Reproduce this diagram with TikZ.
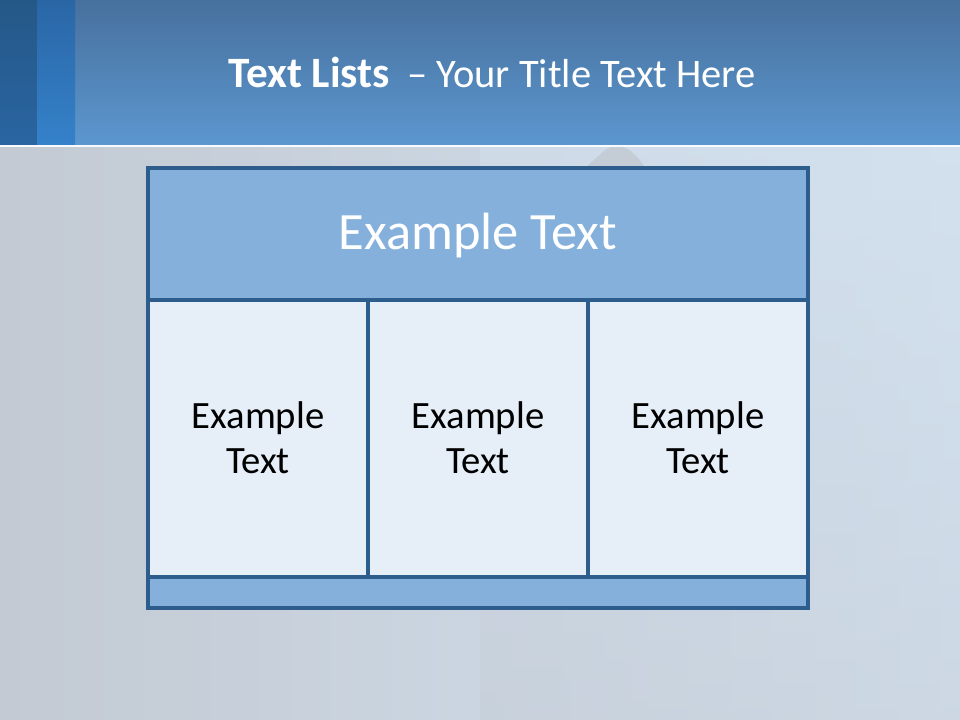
\documentclass[tikz,border=0pt]{standalone}
\usepackage{fontspec}
\setmainfont{Carlito}
\definecolor{tblline}{HTML}{2C5D8C}
\definecolor{headblue}{HTML}{86B0DC}
\definecolor{cellblue}{HTML}{E6EEF8}
\definecolor{bgleft}{HTML}{C3CAD3}
\definecolor{bgright}{HTML}{D3E1EF}
\definecolor{bartop}{HTML}{47709D}
\definecolor{barbot}{HTML}{5C97CF}
\definecolor{s1top}{HTML}{245887}
\definecolor{s1bot}{HTML}{2A65A2}
\definecolor{s2top}{HTML}{2A66A6}
\definecolor{s2bot}{HTML}{3582CA}
\begin{document}
\begin{tikzpicture}[x=0.025cm,y=-0.025cm,
  tableline/.style={draw=tblline,line width=2.5pt},
  headfill/.style={fill=headblue},
  cellfill/.style={fill=cellblue},
  celltext/.style={align=center,font=\fontsize{27.5}{32}\selectfont,text=black},
  headtext/.style={font=\fontsize{37.3}{40}\selectfont,text=white}]
\useasboundingbox (0,0) rectangle (960,720);
% background
\shade[left color=bgleft,right color=bgright] (0,145) rectangle (960,720);
\shade[top color=bgright,bottom color=bgleft,opacity=0.4] (480,145) rectangle (960,720);
\fill[gray!60,opacity=0.35] (585,168) -- (605,150) .. controls (615,143) and (630,143) .. (645,168) -- cycle;
% header bar
\shade[top color=bartop,bottom color=barbot] (0,0) rectangle (960,145);
\shade[top color=s1top,bottom color=s1bot] (0,0) rectangle (37,145);
\shade[top color=s2top,bottom color=s2bot] (37,0) rectangle (75,145);
\draw[white!85!bgright,line width=1pt] (0,146) -- (960,146);
% title
\node[text=white,anchor=base] (title) at (492,88)
  {\fontsize{30.8}{34}\selectfont\textbf{Text Lists}\hspace{0.4em}\fontsize{28.8}{34}\selectfont– Your Title Text Here};
% table fills
\path[headfill] (148,168) rectangle (808,300);
\path[cellfill] (148,300) rectangle (808,577);
\path[headfill] (148,577) rectangle (808,608);
% table lines
\draw[tableline] (148,168) rectangle (808,608);
\draw[tableline] (148,300) -- (808,300);
\draw[tableline] (148,577) -- (808,577);
\draw[tableline] (368,300) -- (368,577);
\draw[tableline] (588,300) -- (588,577);
% texts
\node[headtext] (head) at (478,236) {Example Text};
\node[celltext] (c1) at (258,438) {Example\\Text};
\node[celltext] (c2) at (478,438) {Example\\Text};
\node[celltext] (c3) at (698,438) {Example\\Text};
\end{tikzpicture}
\end{document}
